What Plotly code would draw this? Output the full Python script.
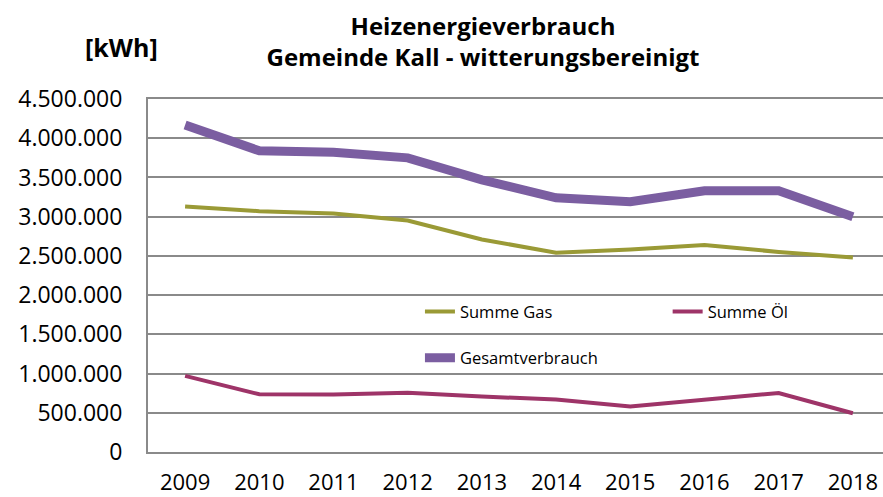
import plotly.graph_objects as go

years = ["2009", "2010", "2011", "2012", "2013", "2014", "2015", "2016", "2017", "2018"]
gas = [3130000, 3070000, 3040000, 2950000, 2710000, 2540000, 2580000, 2640000, 2550000, 2480000]
oel = [970000, 736000, 732000, 756000, 708000, 668000, 580000, 663000, 752000, 494000]
gesamt = [4170000, 3840000, 3820000, 3750000, 3470000, 3240000, 3190000, 3330000, 3330000, 3000000]

xs = list(range(len(years)))
FONT = "'Open Sans', sans-serif"

fig = go.Figure()
fig.add_trace(go.Scatter(x=xs, y=gas, mode="lines", name="Summe Gas",
                         line=dict(color="#9a9a36", width=4), legend="legend"))
fig.add_trace(go.Scatter(x=xs, y=oel, mode="lines", name="Summe Öl",
                         line=dict(color="#9e3468", width=4), legend="legend2"))
fig.add_trace(go.Scatter(x=xs, y=gesamt, mode="lines", name="Gesamtverbrauch",
                         line=dict(color="#7b5ea1", width=9), legend="legend3"))

leg_common = dict(orientation="v", xanchor="left", yanchor="middle",
                  font=dict(size=16.5, family=FONT, color="#000000"),
                  bgcolor="rgba(0,0,0,0)", borderwidth=0)

fig.update_layout(
    width=883, height=497,
    margin=dict(l=148, r=0, t=99, b=45, autoexpand=False),
    paper_bgcolor="white", plot_bgcolor="white",
    separators=",.",
    font=dict(family=FONT, color="#000000"),
    title=dict(text="<b>Heizenergieverbrauch<br>Gemeinde Kall - witterungsbereinigt</b>",
               x=483 / 883, xanchor="center",
               y=0.93, yanchor="top",
               font=dict(size=24, family=FONT, color="#000000")),
    legend=dict(x=0.37, y=0.397, **leg_common),
    legend2=dict(x=0.707, y=0.397, **leg_common),
    legend3=dict(x=0.37, y=0.266, **leg_common),
    xaxis=dict(range=[-0.5, 9.406], tickvals=xs, ticktext=years, showgrid=False,
               showline=True, linecolor="#8a8a8a", linewidth=2, mirror=True,
               ticks="", ticklabelstandoff=10, tickfont=dict(size=22), zeroline=False,
               automargin=False),
    yaxis=dict(range=[0, 4500000], dtick=500000, tickformat=",.0f",
               showgrid=True, gridcolor="#8a8a8a", gridwidth=1.8,
               showline=True, linecolor="#8a8a8a", linewidth=2,
               ticks="", ticklabelstandoff=19, tickfont=dict(size=23), zeroline=False,
               automargin=False),
    showlegend=True,
)

fig.add_annotation(text="<b>[kWh]</b>", xref="paper", yref="paper",
                   x=-0.0354, y=1.147, xanchor="center", yanchor="middle",
                   showarrow=False, font=dict(size=25, family=FONT))

fig.write_html("out.html", config={"displayModeBar": False},
               post_script="document.body.style.margin='0px';")
